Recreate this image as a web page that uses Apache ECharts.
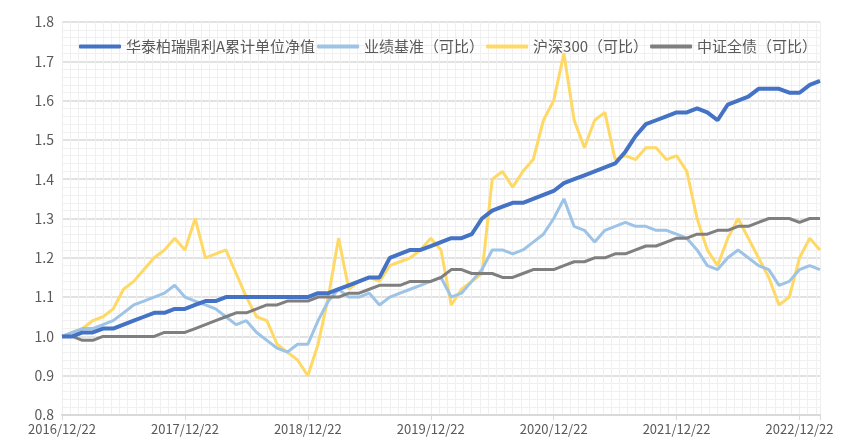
<!DOCTYPE html>
<html lang="zh">
<head>
  <meta charset="UTF-8" />
  <title>华泰柏瑞鼎利A</title>
  <script src="https://cdn.jsdelivr.net/npm/echarts@6/dist/echarts.min.js"></script>
</head>
<body style="margin:0;overflow:hidden;background:#fff;">
  <div id="panel" style="width:862px;height:448px;"></div>
  <script>
    // monthly samples, index 0 = 2016/12/22 ... 74 = 2023/02/22
    var startYear = 2016, startMonth = 12;
    var seriesNames = ['华泰柏瑞鼎利A累计单位净值', '业绩基准（可比）', '沪深300（可比）', '中证全债（可比）'];
    var fund = [1.00,1.00,1.01,1.01,1.02,1.02,1.03,1.04,1.05,1.06,1.06,1.07,
      1.07,1.08,1.09,1.09,1.10,1.10,1.10,1.10,1.10,1.10,1.10,1.10,
      1.10,1.11,1.11,1.12,1.13,1.14,1.15,1.15,1.20,1.21,1.22,1.22,
      1.23,1.24,1.25,1.25,1.26,1.30,1.32,1.33,1.34,1.34,1.35,1.36,
      1.37,1.39,1.40,1.41,1.42,1.43,1.44,1.47,1.51,1.54,1.55,1.56,
      1.57,1.57,1.58,1.57,1.55,1.59,1.60,1.61,1.63,1.63,1.63,1.62,
      1.62,1.64,1.65];
    var bench = [1.00,1.01,1.02,1.02,1.03,1.04,1.06,1.08,1.09,1.10,1.11,1.13,
      1.10,1.09,1.08,1.07,1.05,1.03,1.04,1.01,0.99,0.97,0.96,0.98,
      0.98,1.04,1.09,1.12,1.10,1.10,1.11,1.08,1.10,1.11,1.12,1.13,
      1.14,1.15,1.10,1.11,1.14,1.17,1.22,1.22,1.21,1.22,1.24,1.26,
      1.30,1.35,1.28,1.27,1.24,1.27,1.28,1.29,1.28,1.28,1.27,1.27,
      1.26,1.25,1.22,1.18,1.17,1.20,1.22,1.20,1.18,1.17,1.13,1.14,
      1.17,1.18,1.17];
    var csi300 = [1.00,1.01,1.02,1.04,1.05,1.07,1.12,1.14,1.17,1.20,1.22,1.25,
      1.22,1.30,1.20,1.21,1.22,1.16,1.10,1.05,1.04,0.98,0.96,0.94,
      0.90,0.98,1.10,1.25,1.12,1.14,1.15,1.14,1.18,1.19,1.20,1.22,
      1.25,1.22,1.08,1.12,1.14,1.16,1.40,1.42,1.38,1.42,1.45,1.55,
      1.60,1.72,1.55,1.48,1.55,1.57,1.45,1.46,1.45,1.48,1.48,1.45,
      1.46,1.42,1.30,1.22,1.18,1.25,1.30,1.25,1.20,1.15,1.08,1.10,
      1.20,1.25,1.22];
    var bond = [1.00,1.00,0.99,0.99,1.00,1.00,1.00,1.00,1.00,1.00,1.01,1.01,
      1.01,1.02,1.03,1.04,1.05,1.06,1.06,1.07,1.08,1.08,1.09,1.09,
      1.09,1.10,1.10,1.10,1.11,1.11,1.12,1.13,1.13,1.13,1.14,1.14,
      1.14,1.15,1.17,1.17,1.16,1.16,1.16,1.15,1.15,1.16,1.17,1.17,
      1.17,1.18,1.19,1.19,1.20,1.20,1.21,1.21,1.22,1.23,1.23,1.24,
      1.25,1.25,1.26,1.26,1.27,1.27,1.28,1.28,1.29,1.30,1.30,1.30,
      1.29,1.30,1.30];
    var colors = ['#4472C4', '#9DC3E6', '#FFD966', '#7F7F7F'];
    var widths = [4, 3, 3, 3];

    function monthLabel(i) {
      var m = startMonth - 1 + i;
      var y = startYear + Math.floor(m / 12);
      var mm = m % 12 + 1;
      return y + '/' + (mm < 10 ? '0' + mm : mm) + '/22';
    }
    function pairs(arr) {
      return arr.map(function (v, i) { return [i, v]; });
    }

    var myChart = echarts.init(document.getElementById('panel'));
    var font = '"Noto Sans CJK SC", "Noto Sans", sans-serif';
    var option = {
      animation: false,
      color: colors,
      textStyle: { fontFamily: font },
      legend: {
        left: 74, top: 34,
        itemWidth: 42, itemHeight: 4, itemGap: 2,
        textStyle: { color: '#595959', fontSize: 15, fontFamily: font },
        data: seriesNames.map(function (n) { return { name: n, icon: 'roundRect' }; })
      },
      grid: { left: 62, right: 42, top: 22, bottom: 33 },
      xAxis: {
        type: 'value', min: 0, max: 74, interval: 12,
        axisLine: { show: true, lineStyle: { color: '#d9d9d9', width: 2 } },
        axisTick: { show: true, length: 5, lineStyle: { color: '#d9d9d9' } },
        axisLabel: { color: '#595959', fontSize: 13, formatter: function (v) { return v % 12 === 0 ? monthLabel(v) : ''; } },
        splitLine: { show: true, lineStyle: { color: '#eeeeee' } },
        minorTick: { show: false, splitNumber: 15 },
        minorSplitLine: { show: true, lineStyle: { color: '#f0f0f0' } }
      },
      yAxis: {
        type: 'value', min: 0.8, max: 1.8, interval: 0.1,
        axisLine: { show: false },
        axisTick: { show: false },
        axisLabel: { color: '#595959', fontSize: 14, formatter: function (v) { return v.toFixed(1); } },
        splitLine: { lineStyle: { color: '#d9d9d9', width: 1.5 } },
        minorTick: { show: false, splitNumber: 5 },
        minorSplitLine: { show: true, lineStyle: { color: '#f0f0f0' } }
      },
      series: [fund, bench, csi300, bond].map(function (arr, k) {
        return {
          name: seriesNames[k], type: 'line', data: pairs(arr),
          showSymbol: false, smooth: false,
          lineStyle: { width: widths[k], color: colors[k] },
          z: [5, 3, 2, 4][k]
        };
      })
    };
    myChart.setOption(option);
    window.addEventListener('resize', function () { myChart.resize(); });
  </script>
</body>
</html>
